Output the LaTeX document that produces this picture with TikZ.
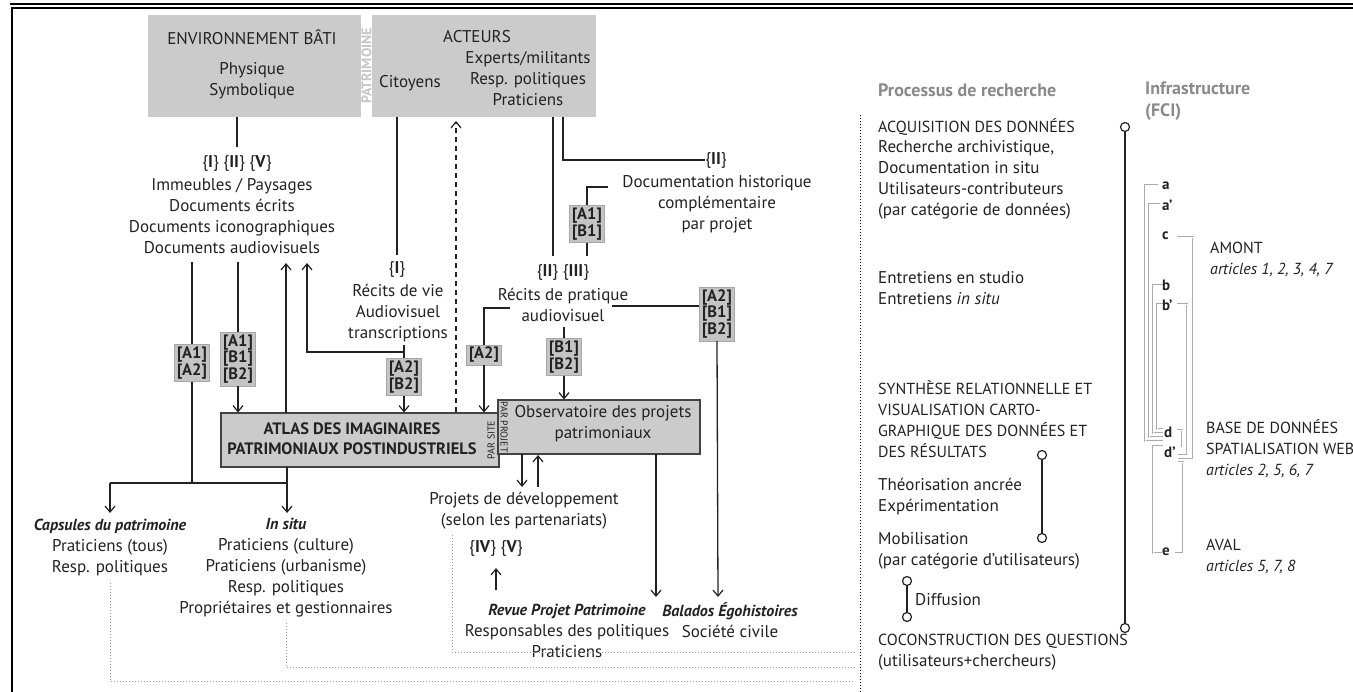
\documentclass[tikz,border=0pt]{standalone}
\usepackage{fontspec}
\setmainfont{PT Sans}
\usetikzlibrary{arrows.meta}
\definecolor{boxgray}{HTML}{CBCBCB}
\definecolor{taggray}{HTML}{C4C4C4}
\definecolor{ink}{HTML}{222222}
\definecolor{headgray}{HTML}{8A8A8A}
\newcommand{\ttlfmt}[1]{{\fontsize{16}{21}\selectfont\bfseries\itshape #1}}
\begin{document}
\begin{tikzpicture}[x=1pt,y=-1pt,
  txt/.style={font=\fontsize{17}{21}\selectfont, align=center, inner sep=0pt, text=ink},
  ltxt/.style={txt, font=\fontsize{16}{21}\selectfont, align=left, anchor=west},
  topbox/.style={fill=boxgray, draw=none, inner sep=0pt},
  midbox/.style={fill=boxgray, draw=ink!85, line width=1.3pt, inner sep=0pt},
  tag/.style={fill=taggray, draw=taggray!85!black, line width=0.3pt, font=\fontsize{16.5}{15.5}\selectfont\bfseries, align=center, inner sep=2.5pt, text=ink},
  conn/.style={draw=ink, line width=1.3pt},
  arr/.style={conn, -{Straight Barb[length=6pt,width=10pt,line width=1.2pt]}},
  gdot/.style={draw=gray!80, line width=1pt, dotted},
  infra/.style={draw=gray!65, double=white, double distance=0.9pt, line width=0.6pt},
  ring/.style={circle, draw=ink, fill=white, line width=1.2pt, minimum size=9pt, inner sep=0pt},
  letter/.style={font=\fontsize{15}{15}\selectfont\bfseries, inner sep=0pt, anchor=west, text=ink},
  vsmall/.style={font=\fontsize{10}{10}\selectfont, inner sep=0pt, text=ink},
  head/.style={ltxt, font=\fontsize{18}{22}\selectfont\bfseries, text=headgray}
]
\useasboundingbox (0,0) rectangle (1353,692);
% frame
\draw[line width=2.2pt] (10,3.8) -- (1353,3.8);
\draw[line width=1.2pt] (12,8) -- (1353,8);
\draw[line width=2.4pt] (12,7) -- (12,692);

% top boxes
\node[topbox, minimum width=213pt, minimum height=102pt] (env) at (254.5,66) {};
\node[topbox, minimum width=224pt, minimum height=102pt] (act) at (484,66) {};
\node[txt] (envT) at (252,37) {ENVIRONNEMENT BÂTI};
\node[txt] (envS) at (252,81) {Physique\\Symbolique};
\node[txt] (actT) at (477,37) {ACTEURS};
\node[txt] (cit) at (410,83) {Citoyens};
\node[txt] (actL) at (528,79) {Experts/militants\\Resp. politiques\\Praticiens};
\node[rotate=90, font=\fontsize{14}{14}\selectfont\bfseries, text=gray!45, inner sep=0pt] (pat) at (366.5,66) {PATRIMOINE};

% left texts
\node[txt] (r1) at (237,163) {\{\textbf{I}\} \{\textbf{II}\} \{\textbf{V}\}};
\node[txt] (docs) at (232,216) {Immeubles / Paysages\\Documents écrits\\Documents iconographiques\\Documents audiovisuels};
\node[txt] (r2) at (397,269) {\{\textbf{I}\}};
\node[txt] (recv) at (398,313.5) {Récits de vie\\Audiovisuel\\transcriptions};
\node[txt] (r3) at (716,160) {\{\textbf{II}\}};
\node[txt] (dochist) at (717,204.5) {Documentation historique\\complémentaire\\par projet};
\node[txt] (r4) at (563,272) {\{\textbf{II}\} \{\textbf{III}\}};
\node[txt] (recp) at (563,305) {Récits de pratique\\audiovisuel};

% middle boxes
\node[midbox, minimum width=278pt, minimum height=54pt] (atlas) at (360,440) {};
\node[midbox, minimum width=202pt, minimum height=54pt] (obs) at (599,427) {};
\node[txt, font=\fontsize{16.5}{20}\selectfont\bfseries] (atlasT) at (352,439) {ATLAS DES IMAGINAIRES\\PATRIMONIAUX POSTINDUSTRIELS};
\node[txt] (obsT) at (603,424) {Observatoire des projets\\patrimoniaux};
\node[vsmall, rotate=90] (parsite) at (491,440) {PAR SITE};
\node[vsmall, rotate=-90] (parprojet) at (504,427) {PAR PROJET};

% tags
\node[tag] (t1) at (192,363) {[A1]\\{[A2]}};
\node[tag] (t2) at (238,359) {[A1]\\{[B1]}\\{[B2]}};
\node[tag] (t3) at (404,377) {[A2]\\{[B2]}};
\node[tag] (t4) at (587,224) {[A1]\\{[B1]}};
\node[tag] (t5) at (484,355) {[A2]};
\node[tag] (t6) at (564,357) {[B1]\\{[B2]}};
\node[tag] (t7) at (717,314) {[A2]\\{[B1]}\\{[B2]}};

% bottom texts
\node[txt] (caps) at (110,547) {\ttlfmt{Capsules du patrimoine}\\Praticiens (tous)\\Resp. politiques};
\node[txt] (insitu) at (286,568) {\ttlfmt{In situ}\\Praticiens (culture)\\Praticiens (urbanisme)\\Resp. politiques\\Propriétaires et gestionnaires};
\node[txt] (projets) at (524,510.5) {Projets de développement\\(selon les partenariats)};
\node[txt] (r5) at (496,548) {\{\textbf{IV}\} \{\textbf{V}\}};
\node[txt] (revue) at (567,631) {\ttlfmt{Revue Projet Patrimoine}\\Responsables des politiques\\Praticiens};
\node[txt] (balados) at (730,620.5) {\ttlfmt{Balados Égohistoires}\\Société civile};

% connectors left
\draw[conn] (r1.north |- env.south) -- (237,147);
\draw[conn] (192,262) -- (t1.north);
\draw[conn] (t1.south) -- (192,483);
\coordinate (jl) at (110,483);
\coordinate (jr) at (287,483);
\draw[conn] (jl) -- (jr);
\draw[arr] (jl) -- (110,513);
\draw[arr] (287,467) -- (287,513);
\draw[conn] (238,262) -- (t2.north);
\draw[arr] (t2.south) -- (238,412.5);
\draw[arr] (286,413) -- (286,263);
\draw[conn] (397,117) -- (397,255);
\draw[arr] (404,352) -- (307,352) -- (307,263);
\draw[conn] (404,345) -- (t3.north);
\draw[arr] (t3.south) -- (404,412.5);
\draw[arr, dash pattern=on 5pt off 4pt] (456,412.5) -- (456,121);
\draw[conn] (553,117) -- (553,256);
\draw[conn] (563,117) -- (563,160) -- (r3.west);
\draw[conn] (608,187) -- (587,187) -- (t4.north);
\draw[conn] (t4.south) -- (587,256);
\draw[conn] (510,308) -- (484,308) -- (t5.north);
\draw[arr] (t5.south) -- (484,412.5);
\draw[conn] (564,327) -- (t6.north);
\draw[arr] (t6.south) -- (564,399.5);
\draw[conn] (612,306) -- (t7.west |- 0,306);
\draw[arr] (t7.south) -- (718,597);
\draw[arr] (656,454) -- (656,597);
\draw[arr] (522,454) -- (522,487);
\draw[arr] (538,487) -- (538,455);
\draw[arr] (496,590) -- (496,568);

% dotted feedback lines
\draw[gdot] (452,535) -- (452,652) -- (855,652);
\draw[gdot] (286,623) -- (286,667) -- (855,667);
\draw[gdot] (110,583) -- (110,681) -- (855,681);
\draw[line width=1pt, dotted] (860,115) -- (860,692);

% right column
\node[head] (proc) at (878,90) {Processus de recherche};
\node[head] (infh) at (1145,101) {Infrastructure\\(FCI)};
\node[ltxt] (acq) at (878,127) {ACQUISITION DES DONNÉES};
\node[ltxt, font=\fontsize{17}{21}\selectfont] (rech) at (878,179.5) {Recherche archivistique,\\Documentation in situ\\Utilisateurs-contributeurs\\(par catégorie de données)};
\node[ltxt, font=\fontsize{17}{21}\selectfont] (entr) at (878,288) {Entretiens en studio\\Entretiens \textit{in situ}};
\node[ltxt] (synth) at (878,419) {SYNTHÈSE RELATIONNELLE ET\\VISUALISATION CARTO-\\GRAPHIQUE DES DONNÉES ET\\DES RÉSULTATS};
\node[ltxt, font=\fontsize{17}{21}\selectfont] (theo) at (878,497) {Théorisation ancrée\\Expérimentation};
\node[ltxt, font=\fontsize{17}{21}\selectfont] (mobil) at (878,550.5) {Mobilisation\\(par catégorie d’utilisateurs)};
\node[ltxt, font=\fontsize{17}{21}\selectfont] (diff) at (915,600) {Diffusion};
\node[ltxt] (cocon) at (878,652.5) {COCONSTRUCTION DES QUESTIONS\\{\fontsize{17}{21}\selectfont (utilisateurs+chercheurs)}};

\node[ring] (c1) at (1125,127) {};
\node[ring] (c2) at (1125,628) {};
\node[ring] (c3) at (1042,455) {};
\node[ring] (c4) at (1042,538) {};
\node[ring] (c5) at (907,581) {};
\node[ring] (c6) at (907,617) {};
\draw[conn] (c1) -- (c2);
\draw[conn] (c3) -- (c4);
\draw[conn] (c5) -- (c6);

% infrastructure
\draw[infra] (1158,185) -- (1145,185) -- (1145,441) -- (1163,441);
\draw[infra] (1160,204) -- (1149,204) -- (1149,437) -- (1163,437);
\draw[infra] (1163,285) -- (1153,285) -- (1153,433) -- (1163,433);
\draw[infra] (1163,304) -- (1157,304) -- (1157,429) -- (1163,429);
\draw[infra] (1177,237) -- (1193,237) -- (1193,459) -- (1178,459);
\draw[infra] (1177,304) -- (1187,304) -- (1187,455) -- (1178,455);
\draw[infra] (1177,430) -- (1182,430) -- (1182,447);
\draw[infra] (1163,446) -- (1153,446) -- (1153,553) -- (1162,553);
\draw[infra] (1178,462) -- (1183,462) -- (1183,553) -- (1175,553);
\node[letter] (la) at (1162,186) {a};
\node[letter] (la2) at (1162,205) {a’};
\node[letter] (lc) at (1162,236) {c};
\node[letter] (lb) at (1162,285) {b};
\node[letter] (lb2) at (1162,305) {b’};
\node[letter] (ld) at (1164,432) {d};
\node[letter] (ld2) at (1164,452) {d’};
\node[letter] (le) at (1162,552) {e};
\node[ltxt] (amont) at (1210,259) {AMONT\\\textit{articles 1, 2, 3, 4, 7}};
\node[ltxt] (base) at (1206,448.5) {BASE DE DONNÉES\\SPATIALISATION WEB\\\textit{articles 2, 5, 6, 7}};
\node[ltxt] (aval) at (1206,557) {AVAL\\\textit{articles 5, 7, 8}};
\end{tikzpicture}
\end{document}
